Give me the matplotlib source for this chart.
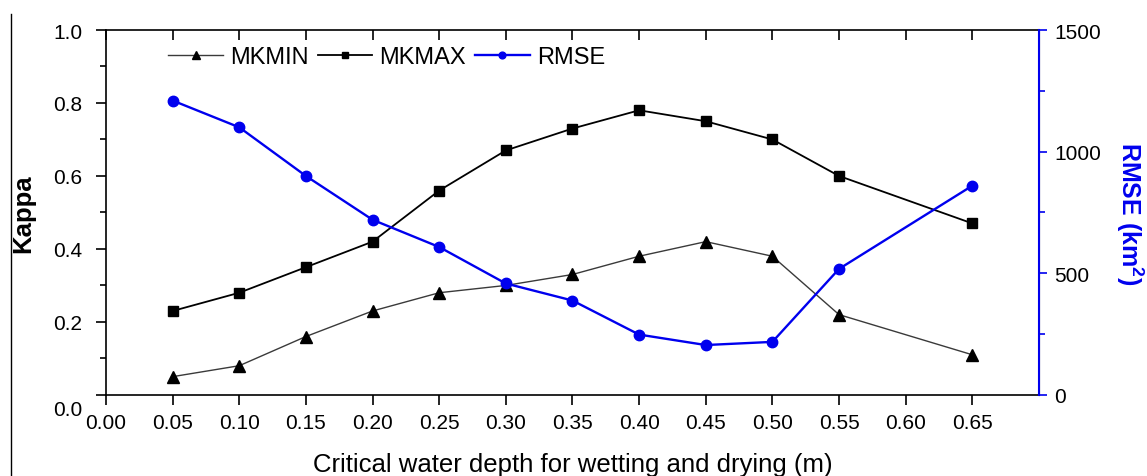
"""Kappa / RMSE versus critical water depth (dual axis line chart)."""

import matplotlib.pyplot as plt
import matplotlib.transforms as mtrans
from matplotlib.lines import Line2D
from matplotlib.ticker import MultipleLocator

plt.rcParams['font.family'] = ['Liberation Sans', 'DejaVu Sans']
plt.rcParams['mathtext.fontset'] = 'custom'
plt.rcParams['mathtext.bf'] = 'Liberation Sans:bold'

# data
depth = [0.05, 0.10, 0.15, 0.20, 0.25, 0.30, 0.35, 0.40, 0.45, 0.50, 0.55, 0.65]
mkmin = [0.05, 0.08, 0.16, 0.23, 0.28, 0.30, 0.33, 0.38, 0.42, 0.38, 0.22, 0.11]
mkmax = [0.23, 0.28, 0.35, 0.42, 0.56, 0.67, 0.73, 0.78, 0.75, 0.70, 0.60, 0.47]
rmse = [1210, 1100, 900, 720, 608, 458, 388, 248, 205, 218, 518, 860]
x_ticks = [0.00, 0.05, 0.10, 0.15, 0.20, 0.25, 0.30, 0.35, 0.40, 0.45, 0.50, 0.55, 0.60, 0.65]

BLUE = '#0000ee'

fig = plt.figure(figsize=(11.47, 4.77), dpi=100)
ax = fig.add_axes([0.0924, 0.170, 0.8134, 0.765])
ax2 = ax.twinx()

# Kappa curves
l1, = ax.plot(depth, mkmin, '-', color='#3a3a3a', lw=1.0, marker='^', ms=9,
              mfc='black', mec='black', label='MKMIN')
l2, = ax.plot(depth, mkmax, '-', color='black', lw=1.3, marker='s', ms=7,
              mfc='black', mec='black', label='MKMAX')
# RMSE curve on the right axis
l3, = ax2.plot(depth, rmse, '-', color=BLUE, lw=1.7, marker='o', ms=7.5,
               mfc=BLUE, mec=BLUE, label='RMSE')

ax.set_xlim(0, 0.70)
ax.set_ylim(0, 1.0)
ax2.set_ylim(0, 1500)

ax.set_xticks(x_ticks)
ax.set_xticklabels([f'{v:.2f}' for v in x_ticks])
ax.yaxis.set_minor_locator(MultipleLocator(0.1))
ax.set_yticks([0.0, 0.2, 0.4, 0.6, 0.8, 1.0])
ax.set_yticklabels(['0.0', '0.2', '0.4', '0.6', '0.8', '1.0'])
ax2.yaxis.set_major_locator(MultipleLocator(500))
ax2.yaxis.set_minor_locator(MultipleLocator(250))

ax.tick_params(axis='x', direction='out', length=7, width=1.2, labelsize=15,
               top=True, pad=6)
ax.tick_params(axis='y', which='major', direction='out', length=7, width=1.2,
               labelsize=15, pad=10)
ax.tick_params(axis='y', which='minor', direction='out', length=4, width=1.2)
ax2.tick_params(axis='y', which='major', direction='out', length=6, width=1.2,
                labelsize=15, color=BLUE, pad=5)
ax2.tick_params(axis='y', which='minor', direction='out', length=4, width=1.2,
                color=BLUE)
# Origin-style mirrored ticks on top point inward
for t in ax.xaxis.get_major_ticks():
    t.tick2line.set_marker(3)
    t.tick2line.set_markersize(7)

# the 0.0 label sits a bit below its tick in the reference
lab0 = ax.get_yticklabels()[0]
lab0.set_transform(lab0.get_transform() +
                   mtrans.ScaledTranslation(0, -9 / 72, fig.dpi_scale_trans))

for s in ['left', 'bottom', 'top']:
    ax.spines[s].set_linewidth(1.2)
ax2.spines['right'].set_color(BLUE)
ax2.spines['right'].set_linewidth(1.5)
ax2.spines['left'].set_visible(False)
ax2.spines['top'].set_visible(False)
ax2.spines['bottom'].set_visible(False)

ax.set_xlabel('Critical water depth for wetting and drying (m)', fontsize=18.5,
              va='center')
ax.xaxis.set_label_coords(0.5, -0.188)
ax.set_ylabel('Kappa', fontsize=18.5, fontweight='bold', va='center')
ax.yaxis.set_label_coords(-0.089, 0.5)
ax2.set_ylabel('RMSE (km$^\\mathbf{2}$)', fontsize=18, fontweight='bold', color=BLUE,
               rotation=270, va='center')
ax2.yaxis.set_label_coords(1.0975, 0.5)

ax.legend(handles=[l1, l2, l3], loc='center left', bbox_to_anchor=(0.067, 0.925),
          ncol=3, frameon=False, fontsize=17, handlelength=2.3,
          columnspacing=0.4, handletextpad=0.3, markerscale=0.65,
          borderaxespad=0, borderpad=0)

# thin page border line at the far left of the reference
fig.add_artist(Line2D([0.0096, 0.0096], [0.0, 0.968], color='black', lw=1.0,
                      transform=fig.transFigure))

fig.savefig('out.png', dpi=100)
